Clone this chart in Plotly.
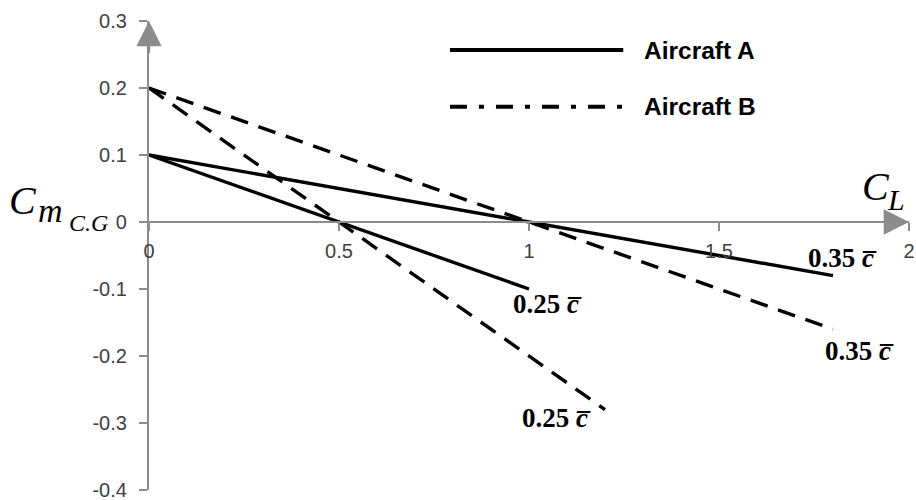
import plotly.graph_objects as go

# ---- data ----
cl_A25 = [0, 0.5, 1.0]
cm_A25 = [0.1, 0.0, -0.1]
cl_A35 = [0, 1.0, 1.8]
cm_A35 = [0.1, 0.0, -0.08]
cl_B25 = [0, 0.5, 1.2]
cm_B25 = [0.2, 0.0, -0.28]
cl_B35 = [0, 1.0, 1.8]
cm_B35 = [0.2, 0.0, -0.16]

x_ticks = [0, 0.5, 1, 1.5, 2]
x_ticktext = ["0", "0.5", "1", "1.5", "2"]
y_ticks = [0.3, 0.2, 0.1, 0, -0.1, -0.2, -0.3, -0.4]
y_ticktext = ["0.3", "0.2", "0.1", "0", "-0.1", "-0.2", "-0.3", "-0.4"]
x_range = [0, 2]
y_range = [-0.4, 0.3]

legend_names = ["Aircraft A", "Aircraft B"]
cbar = "c\u0305"
label_A25 = "0.25 " + cbar
label_A35 = "0.35 " + cbar
label_B25 = "0.25 " + cbar
label_B35 = "0.35 " + cbar

AXIS_GRAY = "#8c8c8c"
TICK_COLOR = "#404040"

fig = go.Figure()

def add_line(x, y, dash):
    fig.add_trace(go.Scatter(x=x, y=y, mode="lines",
                             line=dict(color="black", width=3.4, dash=dash),
                             showlegend=False, hoverinfo="skip", cliponaxis=False))

add_line(cl_A35, cm_A35, "solid")
add_line(cl_A25, cm_A25, "solid")
add_line(cl_B35, cm_B35, "18px,11px")
add_line(cl_B25, cm_B25, "18px,11px")

# end labels anchored to line ends
lab_font = dict(family="Liberation Serif", size=27, color="black")
ends = [
    (cl_A25[-1], cm_A25[-1], label_A25, 18, -15),
    (cl_B25[-1], cm_B25[-1], label_B25, -49, -8),
    (cl_A35[-1], cm_A35[-1], label_A35, 9, 18),
    (cl_B35[-1], cm_B35[-1], label_B35, 26, -22),
]
for x, y, t, dx, dy in ends:
    num, c = t.split(" ")
    fig.add_annotation(x=x, y=y, xref="x", yref="y", showarrow=False,
                       text="<b>" + num + " <i>" + c + "</i></b>",
                       font=lab_font, xshift=dx, yshift=dy,
                       xanchor="center", yanchor="middle")

# axis arrowheads
fig.add_annotation(x=x_range[0], y=y_range[1], ax=x_range[0], ay=y_range[1] - 0.05,
                   xref="x", yref="y", axref="x", ayref="y", text="",
                   showarrow=True, arrowhead=2, arrowsize=2.3, arrowwidth=2.2,
                   arrowcolor=AXIS_GRAY)
fig.add_annotation(x=x_range[1], y=0, ax=x_range[1] - 0.08, ay=0,
                   xref="x", yref="y", axref="x", ayref="y", text="",
                   showarrow=True, arrowhead=2, arrowsize=2.3, arrowwidth=2.2,
                   arrowcolor=AXIS_GRAY)

# axis titles
serif = "Liberation Serif"
fig.add_annotation(xref="paper", yref="y", x=0, y=0, text="<i>C</i>", showarrow=False,
                   font=dict(family=serif, size=40, color="black"),
                   xshift=-126, yshift=22, xanchor="center", yanchor="middle")
fig.add_annotation(xref="paper", yref="y", x=0, y=0, text="<i>m</i>", showarrow=False,
                   font=dict(family=serif, size=34, color="black"),
                   xshift=-99, yshift=12, xanchor="center", yanchor="middle")
fig.add_annotation(xref="paper", yref="y", x=0, y=0, text="<i>C.G</i>", showarrow=False,
                   font=dict(family=serif, size=24, color="black"),
                   xshift=-61, yshift=-1, xanchor="center", yanchor="middle")
fig.add_annotation(xref="x", yref="y", x=x_range[1], y=0, text="<i>C</i>", showarrow=False,
                   font=dict(family=serif, size=40, color="black"),
                   xshift=-33, yshift=36, xanchor="center", yanchor="middle")
fig.add_annotation(xref="x", yref="y", x=x_range[1], y=0, text="<i>L</i>", showarrow=False,
                   font=dict(family=serif, size=30, color="black"),
                   xshift=-13, yshift=23, xanchor="center", yanchor="middle")

# legend (drawn manually for long samples)
leg_y = [0.938, 0.817]
leg_dash = ["solid", "17px,12px,5px,12px"]
for yy, dsh, name in zip(leg_y, leg_dash, legend_names):
    fig.add_shape(type="line", xref="paper", yref="paper", x0=0.396, x1=0.624,
                  y0=yy, y1=yy, line=dict(color="black", width=4, dash=dsh))
    fig.add_annotation(xref="paper", yref="paper", x=0.649, y=yy, text="<b>" + name + "</b>",
                       showarrow=False, xanchor="left", yanchor="middle",
                       font=dict(family="Liberation Sans", size=24.5, color="black"))

y0_frac = (0 - y_range[0]) / (y_range[1] - y_range[0])

fig.update_layout(
    width=916, height=500,
    margin=dict(l=149, r=7, t=21, b=10, autoexpand=False),
    plot_bgcolor="white", paper_bgcolor="white",
    showlegend=False,
    xaxis=dict(range=x_range, tickvals=x_ticks, ticktext=x_ticktext,
               showgrid=False, zeroline=False, showline=True, linecolor=AXIS_GRAY, linewidth=2.2,
               ticks="outside", ticklen=8, tickwidth=1.5, tickcolor=AXIS_GRAY,
               anchor="free", position=y0_frac, automargin=False,
               ticklabelstandoff=3, ticklabeloverflow="allow",
               tickfont=dict(family="Liberation Sans", size=20, color=TICK_COLOR)),
    yaxis=dict(range=y_range, tickvals=y_ticks, ticktext=y_ticktext,
               showgrid=False, zeroline=False, showline=True, linecolor=AXIS_GRAY, linewidth=2.2,
               ticks="outside", ticklen=8, tickwidth=1.5, tickcolor=AXIS_GRAY,
               ticklabelstandoff=8, automargin=False, ticklabeloverflow="allow",
               tickfont=dict(family="Liberation Sans", size=20, color=TICK_COLOR)),
)

fig.write_html("out.html", config={"displayModeBar": False},
               post_script="document.body.style.margin='0';document.body.style.overflow='hidden';")
